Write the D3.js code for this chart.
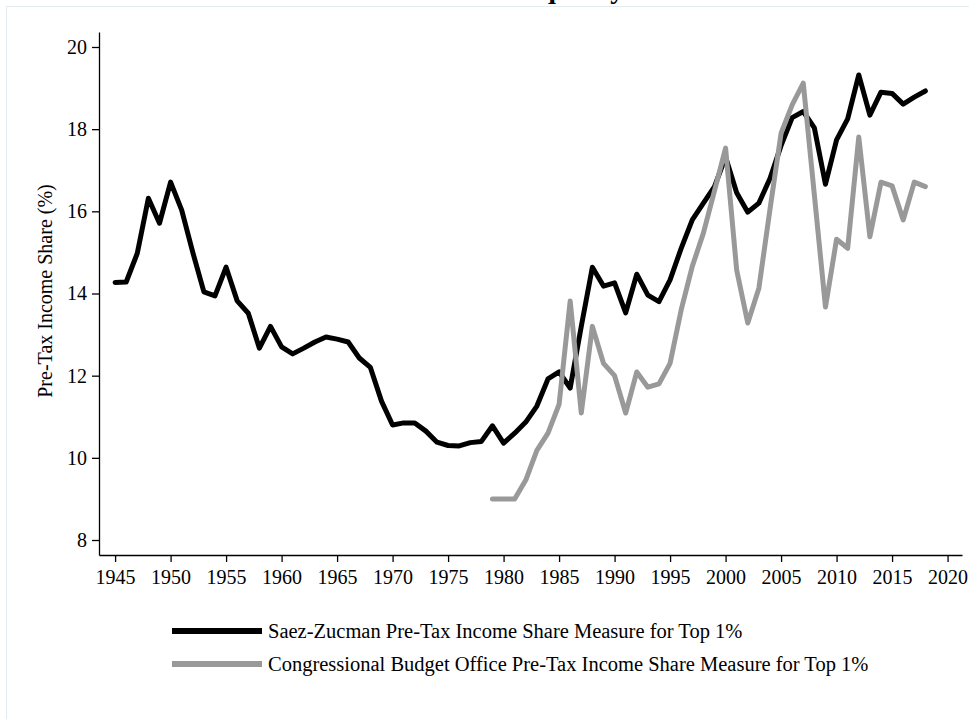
<!DOCTYPE html>
<html>
<head>
<meta charset="utf-8">
<script src="https://cdn.jsdelivr.net/npm/d3@7"></script>
<style>
	body { margin: 0; background: #fff; }
	svg { display: block; font-family: "Liberation Serif", "Times New Roman", serif; }
</style>
</head>
<body>
<svg id="chart"></svg>
<script>
const szYears = d3.range(1945, 2019);
const szValues = [
	14.27, 14.28, 14.98, 16.32, 15.71, 16.71, 16.03, 15.0, 14.04, 13.94,
	14.64, 13.82, 13.52, 12.67, 13.2, 12.7, 12.53, 12.67, 12.82, 12.94,
	12.89, 12.82, 12.43, 12.2, 11.38, 10.8, 10.85, 10.85, 10.65, 10.38,
	10.3, 10.29, 10.37, 10.4, 10.78, 10.36, 10.6, 10.87, 11.26, 11.92,
	12.09, 11.7, 13.2, 14.64, 14.18, 14.26, 13.53, 14.47, 13.96, 13.8,
	14.33, 15.1, 15.79, 16.2, 16.6, 17.32, 16.45, 15.98, 16.2, 16.8,
	17.6, 18.28, 18.43, 18.03, 16.66, 17.74, 18.25, 19.32, 18.34, 18.9,
	18.87, 18.61, 18.78, 18.93
];
const cboYears = d3.range(1979, 2019);
const cboValues = [
	9.0, 9.0, 9.0, 9.46, 10.18, 10.6, 11.3, 13.82, 11.09, 13.2,
	12.3, 12.0, 11.09, 12.09, 11.72, 11.8, 12.3, 13.6, 14.66, 15.47,
	16.5, 17.54, 14.57, 13.28, 14.13, 16.05, 17.9, 18.59, 19.12, 16.4,
	13.67, 15.32, 15.1, 17.81, 15.38, 16.71, 16.62, 15.79, 16.71, 16.6
];
const xTicks = d3.range(1945, 2021, 5);
const yTicks = [8, 10, 12, 14, 16, 18, 20];
const seriesNames = [
	"Saez-Zucman Pre-Tax Income Share Measure for Top 1%",
	"Congressional Budget Office Pre-Tax Income Share Measure for Top 1%"
];
const seriesColors = ["#000000", "#999999"];

let width = 969,
	height = 719;

let svg = d3.select("#chart").attr("width", width).attr("height", height);

// outer graph region border
svg.append("rect")
	.attr("x", 6.5).attr("y", 6.5)
	.attr("width", 1000).attr("height", 1000)
	.attr("fill", "none")
	.attr("stroke", "#e3ebee");

// title sits above the page edge in the reference, only descenders show
svg.append("text")
	.attr("x", 515).attr("y", -2)
	.attr("text-anchor", "middle")
	.attr("font-size", "28px")
	.attr("font-weight", "bold")
	.text("Income Inequality");

let x = d3.scaleLinear().domain([1943.55, 2021.3]).range([99, 962]);
let y = d3.scaleLinear().domain([7.635, 20.365]).range([555, 32]);

let gx = svg.append("g")
	.attr("transform", "translate(0,555)")
	.call(d3.axisBottom(x).tickValues(xTicks).tickFormat(d3.format("d")).tickSize(7).tickSizeOuter(0).tickPadding(8));

let gy = svg.append("g")
	.attr("transform", "translate(99,0)")
	.call(d3.axisLeft(y).tickValues(yTicks).tickSize(7).tickSizeOuter(0).tickPadding(5));

[gx, gy].forEach(g => {
	g.selectAll("text").attr("font-size", "20px").attr("font-family", "Liberation Serif").attr("fill", "#000");
	g.selectAll("line, path").attr("stroke", "#000").attr("stroke-width", 1.3);
});

svg.append("text")
	.attr("transform", "translate(52,291) rotate(-90)")
	.attr("text-anchor", "middle")
	.attr("font-size", "20px")
	.text("Pre-Tax Income Share (%)");

let line = d3.line()
	.x(d => x(d[0]))
	.y(d => y(d[1]));

let series = [
	szYears.map((yr, i) => [yr, szValues[i]]),
	cboYears.map((yr, i) => [yr, cboValues[i]])
];

svg.selectAll(".series")
	.data(series)
	.enter()
	.append("path")
	.attr("class", "series")
	.attr("d", line)
	.attr("fill", "none")
	.attr("stroke", (d, i) => seriesColors[i])
	.attr("stroke-width", 5)
	.attr("stroke-linejoin", "round")
	.attr("stroke-linecap", "round");

let legend = svg.append("g").attr("transform", "translate(172,631)");

legend.selectAll("line")
	.data(seriesNames)
	.enter()
	.append("line")
	.attr("x1", 0).attr("x2", 90)
	.attr("y1", (d, i) => i * 33).attr("y2", (d, i) => i * 33)
	.attr("stroke", (d, i) => seriesColors[i])
	.attr("stroke-width", 6);

legend.selectAll("text")
	.data(seriesNames)
	.enter()
	.append("text")
	.attr("x", 96)
	.attr("y", (d, i) => i * 33 + 7)
	.attr("font-size", "20.5px")
	.text(d => d);
</script>
</body>
</html>
